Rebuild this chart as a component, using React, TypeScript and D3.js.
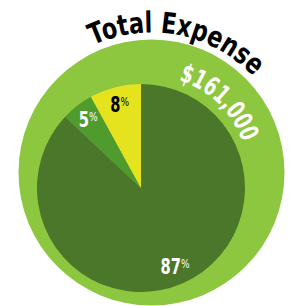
import React from 'react';
import * as d3 from 'd3';

const title = 'Total Expense';
const totalLabel = '$161,000';
const slices = ['main', 'small', 'mid'];
const shares = [87, 5, 8];
const sliceColors = ['#4a7729', '#4f9b2e', '#e5e31e'];
const labelColors = ['#ffffff', '#ffffff', '#000000'];

const width = 290;
const height = 306;

// ring behind the pie
const ring = { cx: 151.5, cy: 172.5, r: 133 };
// the pie itself sits a bit lower-left of the ring
const pieC = { cx: 141, cy: 188, r: 104 };

const deg = (d: number) => (d * Math.PI) / 180;

// path for text along a circle, angle 0 = 12 o'clock, clockwise
function arcPath(cx: number, cy: number, r: number, a0: number, a1: number) {
  const p = d3.path();
  const s = deg(a0 - 90);
  p.moveTo(cx + r * Math.cos(s), cy + r * Math.sin(s));
  p.arc(cx, cy, r, s, deg(a1 - 90));
  return p.toString();
}

export default function App() {
  const pie = d3.pie<number>().sort(null).value(d => d);
  const arcs = pie(shares);
  const arc = d3.arc<d3.PieArcDatum<number>>().innerRadius(0).outerRadius(pieC.r);
  const labelArc = d3.arc<d3.PieArcDatum<number>>().innerRadius(86).outerRadius(86);

  const font = "'DejaVu Sans', sans-serif";

  return (
    <svg width={width} height={height} style={{ position: 'absolute', left: 0, top: 0 }}>
      <defs>
        <path id="titlePath" d={arcPath(ring.cx, ring.cy, 140, -59, 81)} />
        <path id="totalPath" d={arcPath(ring.cx, ring.cy, 96, -6, 94)} />
      </defs>
      <circle cx={ring.cx} cy={ring.cy} r={ring.r} fill="#8dc63f" />
      <g transform={`translate(${pieC.cx},${pieC.cy})`}>
        {arcs.map((a, i) => (
          <path key={slices[i]} d={arc(a) || ''} fill={sliceColors[i]} />
        ))}
        {arcs.map((a, i) => {
          const [x, y] = labelArc.centroid(a);
          return (
            <g key={'l' + slices[i]} transform={`translate(${x},${y}) scale(0.7,1)`}>
              <text
                y={7}
                textAnchor="middle"
                fill={labelColors[i]}
                fontFamily={font}
                fontWeight="bold"
                fontSize={21}
              >
                {a.data}
                <tspan fontSize={13} fontWeight="normal" dy={-6}>%</tspan>
              </text>
            </g>
          );
        })}
      </g>
      <text fontFamily={font} fontWeight="bold" fontSize={29} fill="#000">
        <textPath
          href="#titlePath"
          startOffset="50%"
          textAnchor="middle"
          textLength={174}
          lengthAdjust="spacingAndGlyphs"
        >
          {title}
        </textPath>
      </text>
      <text fontFamily={font} fontWeight="bold" fontSize={26} fill="#fff">
        <textPath
          href="#totalPath"
          startOffset="50%"
          textAnchor="middle"
          textLength={92}
          lengthAdjust="spacingAndGlyphs"
        >
          {totalLabel}
        </textPath>
      </text>
    </svg>
  );
}
